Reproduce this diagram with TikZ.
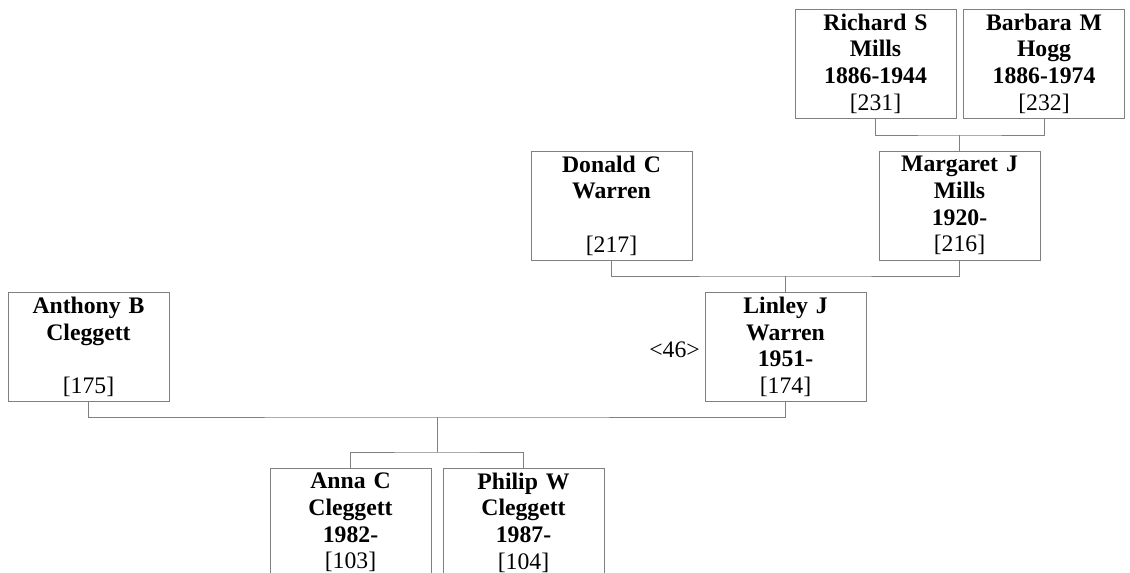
\documentclass[tikz,border=0pt]{standalone}
\usepackage{fontspec}
\setmainfont{Liberation Serif}
\definecolor{linegray}{RGB}{128,128,128}
\begin{document}
\begin{tikzpicture}[x=1pt,y=-1pt,
  pbox/.style={draw=linegray, line width=1pt, minimum width=161pt, minimum height=109pt,
    text width=161pt, align=center, inner sep=0pt,
    font=\fontsize{23.7}{26.7}\selectfont},
  conn/.style={draw=linegray, line width=1pt},
  tag/.style={inner sep=0pt, anchor=east, font=\fontsize{23.7}{26.7}\selectfont}]
\clip (0,0) rectangle (1130,573);
\fill[white] (0,0) rectangle (1130,573);
% generation 1
\node[pbox] (rich) at (875.5,63.5) {\textbf{Richard S}\\\textbf{Mills}\\\textbf{1886-1944}\\{[231]}};
\node[pbox] (barb) at (1044,63.5) {\textbf{Barbara M}\\\textbf{Hogg}\\\textbf{1886-1974}\\{[232]}};
% generation 2
\node[pbox] (don) at (611.5,205.5) {\textbf{Donald C}\\\textbf{Warren}\\\mbox{}\\{[217]}};
\node[pbox] (marg) at (959.5,205.5) {\textbf{Margaret J}\\\textbf{Mills}\\\textbf{1920-}\\{[216]}};
% generation 3
\node[pbox] (ant) at (88.5,347) {\textbf{Anthony B}\\\textbf{Cleggett}\\\mbox{}\\{[175]}};
\node[pbox] (lin) at (785.5,347) {\textbf{Linley J}\\\textbf{Warren}\\\textbf{1951-}\\{[174]}};
\node[tag] (n46) at (700,350) {<46>};
% generation 4
\node[pbox] (anna) at (350.5,522.5) {\textbf{Anna C}\\\textbf{Cleggett}\\\textbf{1982-}\\{[103]}};
\node[pbox] (phil) at (523.5,522.5) {\textbf{Philip W}\\\textbf{Cleggett}\\\textbf{1987-}\\{[104]}};
% connectors
\coordinate (m1) at (959.5,135);
\draw[conn] (rich.south) |- (m1) -| (barb.south);
\draw[conn] (m1) -- (marg.north);
\coordinate (m2) at (785.5,276);
\draw[conn] (don.south) |- (m2) -| (marg.south);
\draw[conn] (m2) -- (lin.north);
\coordinate (m3) at (437,417);
\coordinate (m4) at (437,452);
\draw[conn] (ant.south) |- (m3) -| (lin.south);
\draw[conn] (m3) -- (m4);
\draw[conn] (anna.north) |- (m4) -| (phil.north);
\end{tikzpicture}
\end{document}
